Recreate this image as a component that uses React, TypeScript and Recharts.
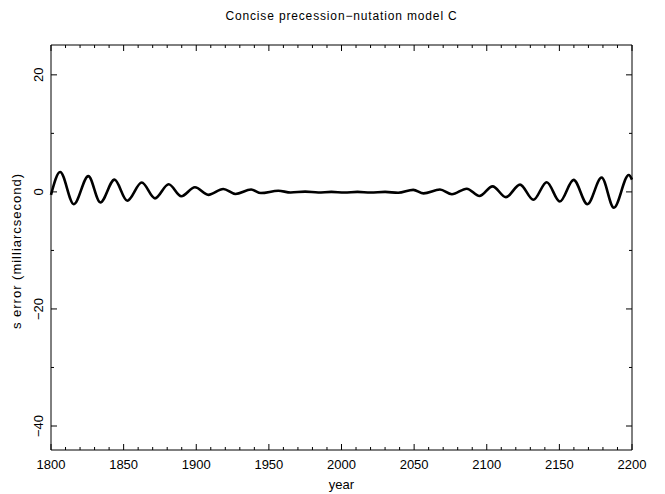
import { LineChart, Line, XAxis, YAxis } from "recharts";

// s error of the concise model (extrema + ends)
const years = [
  1800, 1806.3, 1815.7, 1825.7, 1834.0, 1843.7, 1852.5, 1862.5, 1871.6, 1881.0,
  1889.7, 1899.1, 1908.3, 1918.6, 1927.0, 1937.8, 1944.5, 1956.5, 1965, 1975,
  1984, 1993, 2002, 2011, 2020, 2030, 2039, 2049.4, 2056.5, 2067.8, 2076.0,
  2086.2, 2095.0, 2104.0, 2113.2, 2122.9, 2132.1, 2141.3, 2150.3, 2159.8, 2169.3,
  2179.1, 2187.5, 2197.8, 2200,
];
const sError = [
  -0.5, 3.4, -2.1, 2.7, -1.8, 2.1, -1.5, 1.6, -1.1, 1.3,
  -0.75, 0.8, -0.5, 0.5, -0.35, 0.4, -0.2, 0.2, -0.1, 0.05,
  -0.1, 0.0, -0.1, 0.0, -0.1, 0.0, -0.15, 0.35, -0.25, 0.4, -0.4,
  0.55, -0.7, 0.95, -0.9, 1.25, -1.35, 1.65, -1.65, 2.05, -2.1,
  2.45, -2.7, 2.9, 2.1,
];

const yearTicks = [
  1800, 1810, 1820, 1830, 1840, 1850, 1860, 1870, 1880, 1890, 1900,
  1910, 1920, 1930, 1940, 1950, 1960, 1970, 1980, 1990, 2000,
  2010, 2020, 2030, 2040, 2050, 2060, 2070, 2080, 2090, 2100,
  2110, 2120, 2130, 2140, 2150, 2160, 2170, 2180, 2190, 2200,
];
const errorTicks = [-40, -30, -20, -10, 0, 10, 20];

const data = years.map((year, i) => ({ year, s: sError[i] }));

const W = 665;
const H = 494;
const LEFT = 51;
const RIGHT = 632;
const TOP = 45;
const BOTTOM = 450;
const FONT = "'Liberation Sans', Arial, sans-serif";

const fmt = (v: number) => String(v).replace("-", "\u2212");

function BottomTick({ payload }: any) {
  const x = payload.coordinate;
  const major = payload.value % 50 === 0;
  return (
    <g>
      <line x1={x} x2={x} y1={BOTTOM} y2={BOTTOM - (major ? 6 : 3)} stroke="#000" />
      {major && (
        <text x={x} y={469} textAnchor="middle" fontSize={13} fontFamily={FONT} fill="#000">
          {payload.value}
        </text>
      )}
    </g>
  );
}

function TopTick({ payload }: any) {
  const x = payload.coordinate;
  const major = payload.value % 50 === 0;
  return <line x1={x} x2={x} y1={TOP} y2={TOP + (major ? 6 : 3)} stroke="#000" />;
}

function LeftTick({ payload }: any) {
  const y = payload.coordinate;
  const major = payload.value % 20 === 0;
  return (
    <g>
      <line x1={LEFT} x2={LEFT + (major ? 6 : 3)} y1={y} y2={y} stroke="#000" />
      {major && (
        <text
          x={43}
          y={y}
          transform={`rotate(-90, 43, ${y})`}
          textAnchor="middle"
          fontSize={13}
          fontFamily={FONT}
          fill="#000"
        >
          {fmt(payload.value)}
        </text>
      )}
    </g>
  );
}

function RightTick({ payload }: any) {
  const y = payload.coordinate;
  const major = payload.value % 20 === 0;
  return <line x1={RIGHT} x2={RIGHT - (major ? 6 : 3)} y1={y} y2={y} stroke="#000" />;
}

export default function App() {
  return (
    <div style={{ position: "absolute", left: 0, top: 0, width: W, height: H, background: "#fff" }}>
      <LineChart
        width={W}
        height={H}
        data={data}
        margin={{ top: TOP - 1, right: W - RIGHT - 1, bottom: H - BOTTOM - 1, left: LEFT - 1 }}
      >
        <XAxis
          dataKey="year"
          type="number"
          domain={[1800, 2200]}
          ticks={yearTicks}
          interval={0}
          height={1}
          tickLine={false}
          axisLine={{ stroke: "#000" }}
          tick={<BottomTick />}
        />
        <XAxis
          xAxisId="top"
          orientation="top"
          dataKey="year"
          type="number"
          domain={[1800, 2200]}
          ticks={yearTicks}
          interval={0}
          height={1}
          tickLine={false}
          axisLine={{ stroke: "#000" }}
          tick={<TopTick />}
        />
        <YAxis
          type="number"
          domain={[-44.1, 25.1]}
          ticks={errorTicks}
          interval={0}
          width={1}
          tickLine={false}
          axisLine={{ stroke: "#000" }}
          tick={<LeftTick />}
          allowDataOverflow
        />
        <YAxis
          yAxisId="right"
          orientation="right"
          type="number"
          domain={[-44.1, 25.1]}
          ticks={errorTicks}
          interval={0}
          width={1}
          tickLine={false}
          axisLine={{ stroke: "#000" }}
          tick={<RightTick />}
          allowDataOverflow
        />
        <Line
          type="monotone"
          dataKey="s"
          stroke="#000"
          strokeWidth={2.6}
          dot={false}
          isAnimationActive={false}
        />
      </LineChart>
      <svg
        width={W}
        height={H}
        style={{ position: "absolute", left: 0, top: 0, pointerEvents: "none" }}
      >
        <text
          x={(LEFT + RIGHT) / 2}
          y={20}
          textAnchor="middle"
          fontSize={12}
          letterSpacing={0.85}
          fontFamily={FONT}
          fill="#000"
        >
          Concise precession{"\u2212"}nutation model C
        </text>
        <text x={(LEFT + RIGHT) / 2} y={489} textAnchor="middle" fontSize={13} fontFamily={FONT} fill="#000">
          year
        </text>
        <text
          x={21}
          y={251}
          transform={`rotate(-90, 21, 251)`}
          textAnchor="middle"
          fontSize={13}
          letterSpacing={1}
          fontFamily={FONT}
          fill="#000"
        >
          s error (milliarcsecond)
        </text>
      </svg>
    </div>
  );
}
